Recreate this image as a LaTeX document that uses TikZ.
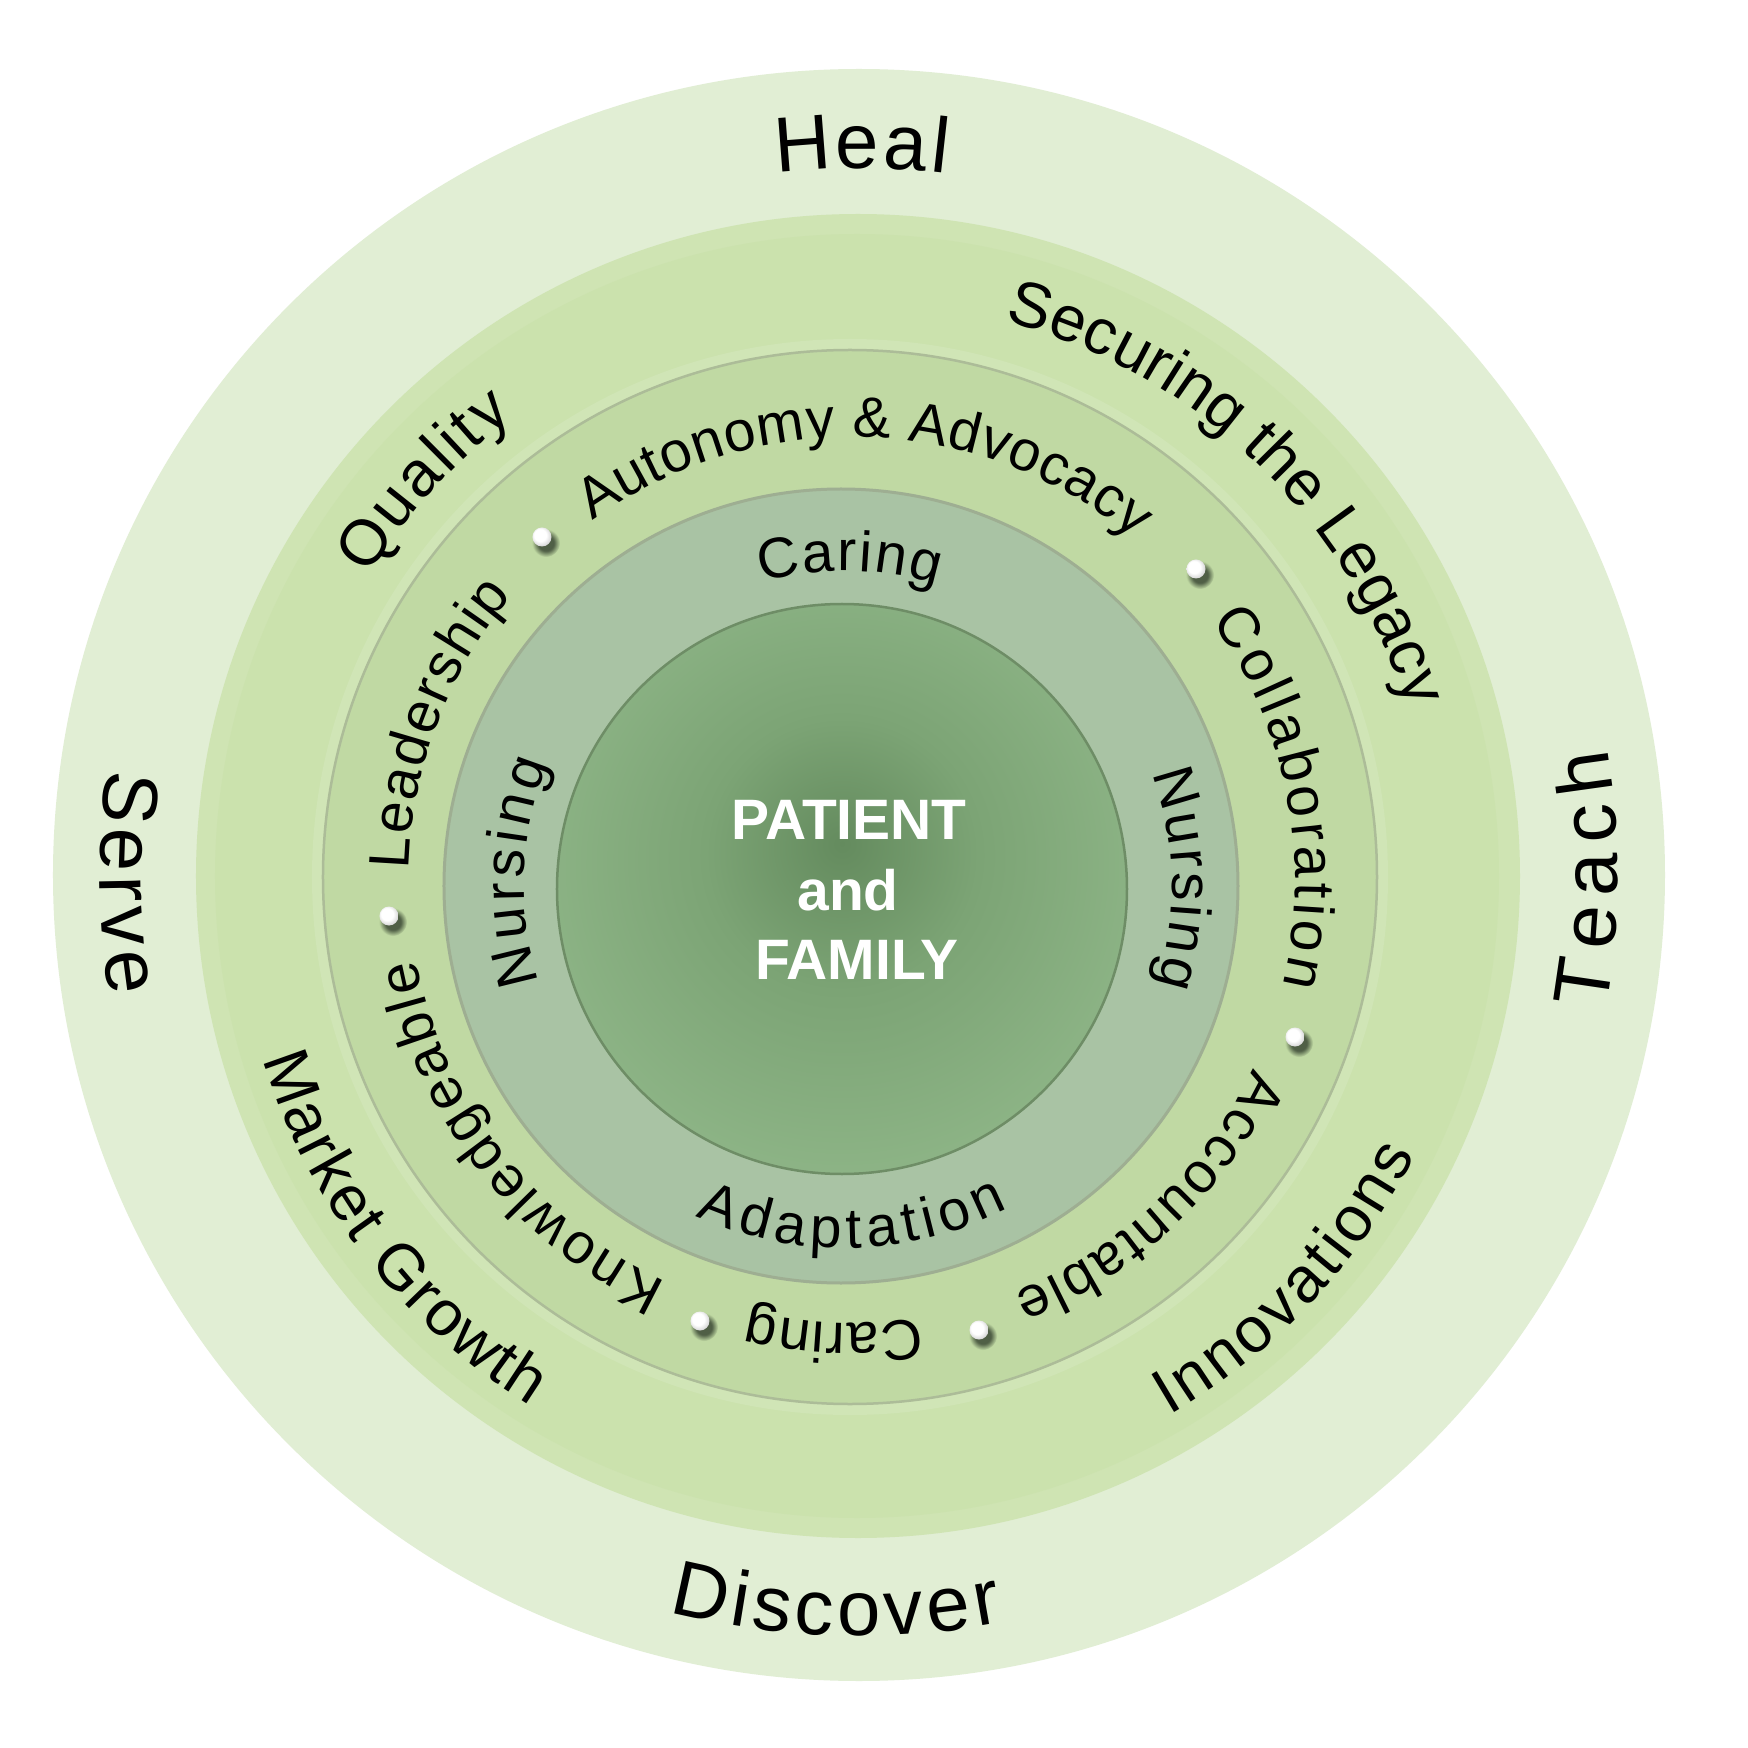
\documentclass[tikz,border=0pt]{standalone}
\usepackage{fontspec}
\setmainfont{Liberation Sans}
\usetikzlibrary{decorations.text,calc}
\definecolor{ringA}{RGB}{225,238,212}
\definecolor{ringB}{RGB}{207,228,179}
\definecolor{ringBi}{RGB}{203,226,173}
\definecolor{haloC}{RGB}{208,229,182}
\definecolor{ringC}{RGB}{192,217,163}
\definecolor{ringD}{RGB}{169,195,164}
\definecolor{coreL}{RGB}{146,185,139}
\definecolor{coreM}{RGB}{124,164,117}
\definecolor{coreD}{RGB}{100,139,94}
\definecolor{lineC}{RGB}{172,188,152}
\definecolor{lineD}{RGB}{158,174,146}
\definecolor{lineE}{RGB}{110,141,102}
\definecolor{shadowc}{RGB}{80,95,70}
\definecolor{pearlE}{RGB}{200,200,200}
\pgfdeclareradialshading{coreshade}{\pgfpoint{0bp}{4bp}}{color(0bp)=(coreD); color(12bp)=(coreM); color(32bp)=(coreL); color(50bp)=(coreL)}
\pgfdeclareradialshading{pearl}{\pgfpoint{-7bp}{7bp}}{color(0bp)=(white); color(16bp)=(white); color(32bp)=(pearlE); color(50bp)=(pearlE)}
\pgfdeclareradialshading{dropshadow}{\pgfpoint{0bp}{0bp}}{color(0bp)=(shadowc); color(14bp)=(shadowc); color(25bp)=(ringC); color(50bp)=(ringC)}
\newcommand\FontOuter{\fontsize{78}{80}\selectfont}
\newcommand\FontMid{\fontsize{64}{66}\selectfont}
\newcommand\FontIn{\fontsize{57}{60}\selectfont}
% clockwise text (tops outward): radius, centre angle, half span, font, text
\newcommand\cwtext[5]{%
  \path[decorate, decoration={text along path, text={|#4|#5}, text align={fit to path}}]
    ({#2+#3}:#1) arc[start angle={#2+#3}, end angle={#2-#3}, radius=#1];}
% counter-clockwise text (tops inward)
\newcommand\ccwtext[5]{%
  \path[decorate, decoration={text along path, text={|#4|#5}, text align={fit to path}}]
    ({#2-#3}:#1) arc[start angle={#2-#3}, end angle={#2+#3}, radius=#1];}
\newcommand\dotball[2]{%
  \shade[shading=dropshadow] (#1+4,#2-6) circle (14);
  \shade[shading=pearl] (#1,#2) circle (9.5);}
\begin{document}
\begin{tikzpicture}[x=1pt,y=1pt]
\useasboundingbox (-859,-873) rectangle (889,875);
\fill[white] (-859,-873) rectangle (889,875);
% rings
\fill[ringA] (0,0) circle (806);
\fill[ringB] (-1,-1) circle (662);
\fill[ringBi] (-2,-1) circle (642);
\draw[haloC, line width=10] (-9,-2) circle (533);
\filldraw[fill=ringC, draw=lineC, line width=2.5] (-9,-2) circle (527);
\filldraw[fill=ringD, draw=lineD, line width=3] (-18,-11) circle (397);
\shade[shading=coreshade] (-17,-14) circle (285);
\draw[lineE, line width=2.5] (-17,-14) circle (285);
% outer ring texts
\cwtext{707}{89.8}{6.9}{\FontOuter}{Heal}
\ccwtext{759}{-0.3}{9.9}{\FontOuter}{Teach}
\ccwtext{759}{180.6}{8.6}{\FontOuter}{Serve}
\ccwtext{761}{268.2}{12.7}{\FontOuter}{Discover}
% second ring texts
\begin{scope}[shift={(-1,-1)}]
\cwtext{574}{137.7}{10.8}{\FontMid}{Quality}
\cwtext{574}{46.4}{28.8}{\FontMid}{Securing the Legacy}
\ccwtext{623}{217.7}{20.6}{\FontMid}{Market Growth}
\ccwtext{623}{316.7}{16.7}{\FontMid}{Innovations}
\end{scope}
% third ring texts
\begin{scope}[shift={(-7,-5)}]
\cwtext{443}{88.1}{37.8}{\FontIn}{Autonomy {\&} Advocacy}
\cwtext{443}{11.05}{24.75}{\FontIn}{Collaboration}
\cwtext{443}{-46.95}{21.75}{\FontIn}{Accountable}
\cwtext{443}{-92.3}{11.2}{\FontIn}{Caring}
\cwtext{443}{-142.2}{27.4}{\FontIn}{Knowledgeable}
\cwtext{443}{159.3}{19.3}{\FontIn}{Leadership}
\end{scope}
% fourth ring texts
\begin{scope}[shift={(-15,-11)}]
\cwtext{315}{89}{16.2}{\FontIn}{Caring}
\cwtext{320}{177.5}{20}{\FontIn}{Nursing}
\cwtext{328}{1.3}{18.8}{\FontIn}{Nursing}
\ccwtext{362}{271.4}{25.6}{\FontIn}{Adaptation}
\end{scope}
% bullets
\dotball{-317}{338}
\dotball{337}{306}
\dotball{436}{-162}
\dotball{120}{-455}
\dotball{-159}{-446}
\dotball{-470}{-41}
% centre
\begin{scope}[every node/.style={text=white, font=\bfseries\fontsize{57}{60}\selectfont, anchor=base, inner sep=0pt}]
\node (patient) at (-10,35) {PATIENT};
\node (and) at (-11,-35) {and};
\node (family) at (-2,-104) {FAMILY};
\end{scope}
\end{tikzpicture}
\end{document}
